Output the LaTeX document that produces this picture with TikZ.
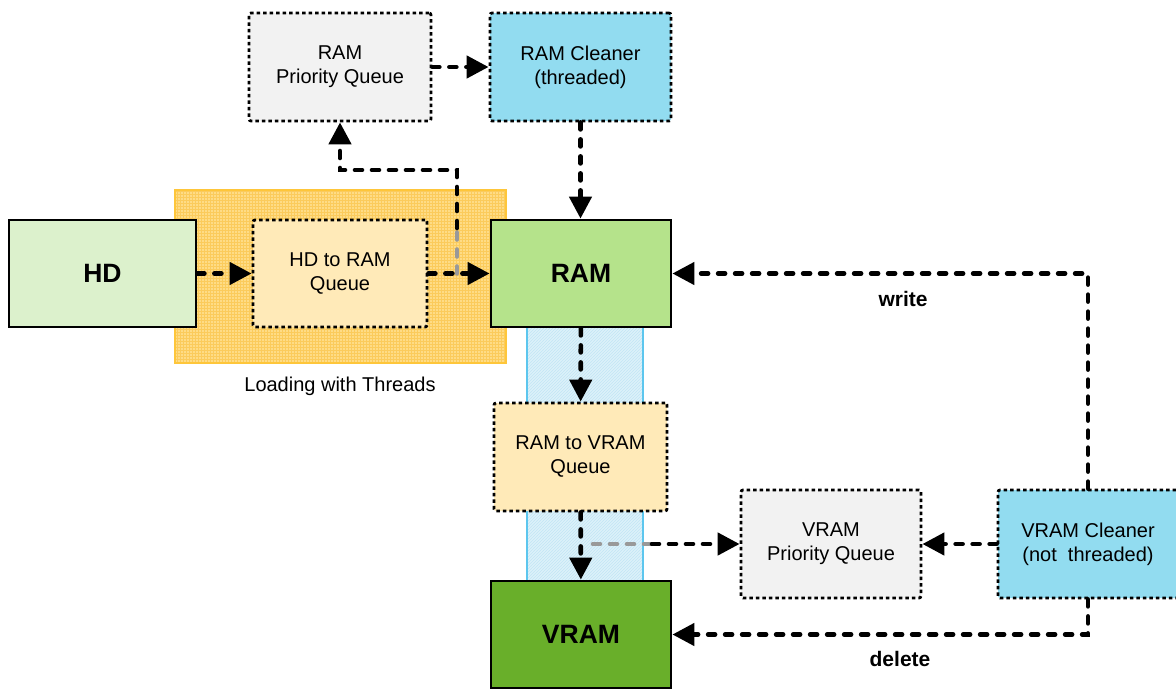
\documentclass[tikz,border=0pt]{standalone}
\usepackage{fontspec}
\setmainfont{Liberation Sans}
\usetikzlibrary{arrows.meta,patterns}
\definecolor{pqgray}{HTML}{F2F2F2}
\definecolor{cleanblue}{HTML}{92DCF0}
\definecolor{hdgreen}{HTML}{DCF1CC}
\definecolor{ramgreen}{HTML}{B5E38B}
\definecolor{vramgreen}{HTML}{69AF2A}
\definecolor{queueyellow}{HTML}{FFEAB8}
\definecolor{orangefill}{HTML}{FEDC86}
\definecolor{orangegrid}{HTML}{FBCB5C}
\definecolor{orangeedge}{HTML}{FEC63A}
\definecolor{bluefill}{HTML}{DDF1FA}
\definecolor{bluegrid}{HTML}{C2E5F5}
\definecolor{blueedge}{HTML}{5CC6EE}
\definecolor{graydash}{HTML}{999999}
\tikzset{
  dotbox/.style={draw=black, line width=2.8pt, dash pattern=on 3.5pt off 3pt,
    rounded corners=2pt, align=center, inner sep=0pt,
    font=\fontsize{20}{24}\selectfont},
  solidbox/.style={draw=black, line width=2.8pt, align=center, inner sep=0pt,
    font=\fontsize{26.5}{30}\selectfont\bfseries},
  conn/.style={line width=4.6pt, dash pattern=on 7pt off 10pt, line cap=round,
    -{Triangle[length=22pt,width=22pt]}},
  connplain/.style={line width=4.6pt, dash pattern=on 7pt off 10pt, line cap=round},
  lbl/.style={font=\fontsize{21}{24}\selectfont\bfseries},
  plainlbl/.style={font=\fontsize{20}{24}\selectfont},
}
\begin{document}
\begin{tikzpicture}[x=1pt,y=-1pt]
\useasboundingbox (0,0) rectangle (1176,689);
% regions
\fill[orangefill] (175,190) rectangle (506,363);
\fill[pattern=grid, pattern color=orangegrid] (175,190) rectangle (506,363);
\draw[orangeedge, line width=2.6pt] (175,190) rectangle (506,363);
\fill[bluefill] (527,327) rectangle (643,580);
\fill[pattern=north east lines, pattern color=bluegrid] (527,327) rectangle (643,580);
\draw[blueedge, line width=2.6pt] (527,327) -- (527,580) (643,327) -- (643,580);
% nodes
\node[dotbox, fill=pqgray, minimum width=182pt, minimum height=108pt] (rpq) at (340,67) {RAM\\Priority Queue};
\node[dotbox, fill=cleanblue, minimum width=181pt, minimum height=108pt] (rcl) at (580.5,67) {RAM Cleaner\\(threaded)};
\node[solidbox, fill=hdgreen, minimum width=187pt, minimum height=107pt] (hd) at (102.5,273.5) {HD};
\node[dotbox, fill=queueyellow, minimum width=174pt, minimum height=107pt] (hq) at (340,273.5) {HD to RAM\\Queue};
\node[solidbox, fill=ramgreen, minimum width=180pt, minimum height=107pt] (ram) at (581,273.5) {RAM};
\node[dotbox, fill=queueyellow, minimum width=173pt, minimum height=108pt] (rvq) at (580.5,457) {RAM to VRAM\\Queue};
\node[dotbox, fill=pqgray, minimum width=180pt, minimum height=108pt] (vpq) at (831,544) {VRAM\\Priority Queue};
\node[dotbox, fill=cleanblue, minimum width=180pt, minimum height=108pt] (vcl) at (1088,544) {VRAM Cleaner\\(not\ \ threaded)};
\node[solidbox, fill=vramgreen, minimum width=180pt, minimum height=107pt] (vram) at (581,634.5) {VRAM};
% labels
\node[plainlbl] (load) at (340,386) {Loading with Threads};
\node[lbl] (wlbl) at (903,299) {write};
\node[lbl] (dlbl) at (900,659) {delete};
% branch coordinates
\coordinate (b1) at (457,273.5);
\coordinate (b1g) at (457,228);
\coordinate (b2) at (593,544);
\coordinate (b2g) at (652,544);
% connectors
\draw[conn] (hd) -- (hq);
\draw[conn] (hq) -- (ram);
\draw[connplain, graydash] (b1) -- (b1g);
\draw[conn] (b1g) -- (457,170) -| (rpq.south);
\draw[conn] (rpq) -- (rcl);
\draw[conn] (rcl) -- (rcl |- ram.north);
\draw[conn] (ram) -- (rvq);
\draw[conn] (rvq) -- (vram);
\draw[connplain, graydash] (b2) -- (b2g);
\draw[conn] (b2g) -- (vpq.west);
\draw[conn] (vcl) -- (vpq);
\draw[conn] (vcl.north) |- (ram.east);
\draw[conn] (vcl.south) |- (vram.east);
\end{tikzpicture}
\end{document}
